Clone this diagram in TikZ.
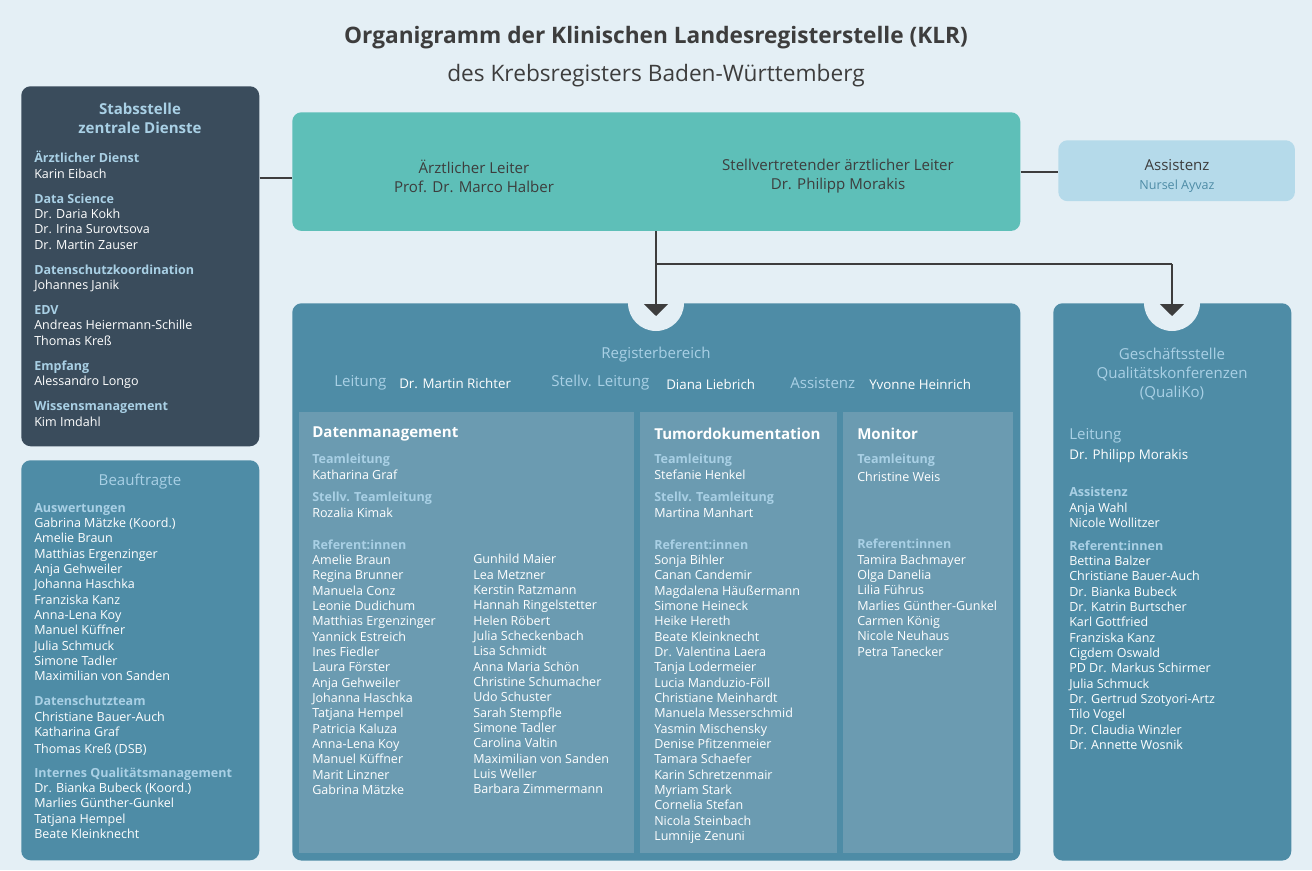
\documentclass[tikz,border=0pt]{standalone}
\usepackage{fontspec}
\setmainfont{Open Sans}
\usetikzlibrary{arrows.meta}
\definecolor{bg}{HTML}{E4EFF5}
\definecolor{darkbox}{HTML}{3A4C5C}
\definecolor{midbox}{HTML}{4E8CA6}
\definecolor{panel}{HTML}{6B9BB1}
\definecolor{teal}{HTML}{5EBFB8}
\definecolor{lightbox}{HTML}{B5DAEA}
\definecolor{lblue}{HTML}{A9D0E5}
\definecolor{ink}{HTML}{3D3D3D}
\newcommand{\hd}[1]{{\color{lblue}\bfseries #1}}
\tikzset{
  box/.style={rounded corners=7pt, inner sep=0, anchor=north west},
  pan/.style={fill=panel, inner sep=0, anchor=north west},
  txt/.style={anchor=north west, align=left, inner sep=0, text=white,
    font=\fontsize{9.4}{11.5}\selectfont},
  big/.style={inner sep=0, align=center, font=\fontsize{11.3}{14.3}\selectfont},
  conn/.style={draw=ink, line width=1.2pt}
}
\begin{document}
\begin{tikzpicture}[x=0.75pt, y=-0.75pt]
\fill[bg] (0,0) rectangle (1312,870);
\useasboundingbox (0,0) rectangle (1312,870);

% title
\node[text=ink, font=\fontsize{17}{20}\selectfont\bfseries] (titel) at (656,38) {Organigramm der Klinischen Landesregisterstelle (KLR)};
\node[text=ink, font=\fontsize{17}{20}\selectfont] (untertitel) at (656,76) {des Krebsregisters Baden-Württemberg};

% boxes
\node[box, fill=darkbox, minimum width=178.5pt, minimum height=270pt] (stab) at (21,86) {};
\node[box, fill=midbox, minimum width=178.5pt, minimum height=300pt] (beauf) at (21,460) {};
\node[box, fill=teal, minimum width=546pt, minimum height=89pt] (leitung) at (292,112) {};
\node[box, fill=lightbox, minimum width=177.5pt, minimum height=45.7pt] (assist) at (1058,140) {};
\node[box, fill=midbox, minimum width=546pt, minimum height=418pt] (register) at (292,303) {};
\node[box, fill=midbox, minimum width=178.5pt, minimum height=418pt] (gs) at (1053,303) {};
\node[pan, minimum width=251pt, minimum height=330.7pt] (daten) at (299,412) {};
\node[pan, minimum width=147.7pt, minimum height=330.7pt] (tumor) at (640,412) {};
\node[pan, minimum width=127.5pt, minimum height=330.7pt] (monitor) at (843,412) {};

% connectors
\coordinate (knick) at (656,264);
\coordinate (knickR) at (1172,264);
\coordinate (spitze) at (656,316);
\coordinate (spitzeR) at (1172,316);
\fill[bg] (656,303) circle[radius=21pt];
\fill[bg] (1172,303) circle[radius=21pt];
\draw[conn] (stab.east |- 0,178) -- (leitung.west |- 0,178);
\draw[conn] (leitung.east |- 0,172) -- (assist.west |- 0,172);
\draw[conn] (leitung.south -| knick) -- (knick) -- (knickR);
\draw[conn, -{Triangle[width=18pt, length=9pt]}] (knick) -- (spitze);
\draw[conn, -{Triangle[width=18pt, length=9pt]}] (knickR) -- (spitzeR);

% Leitung
\node[big, text=ink] (al) at (474,176) {Ärztlicher Leiter\\Prof. Dr. Marco Halber};
\node[big, text=ink] (sal) at (838,176) {Stellvertretender ärztlicher Leiter\\Dr. Philipp Morakis};
\node[big, text=ink] (asst) at (1177,176) {Assistenz\\{\fontsize{9.4}{11}\selectfont\color{midbox}Nursel Ayvaz}};

% Stabsstelle
\node[big, text=lblue, font=\fontsize{11.3}{14.3}\selectfont\bfseries] (stabtitel) at (140,118) {Stabsstelle\\zentrale Dienste};
\node[txt] (stabliste) at (34,151) {\hd{Ärztlicher Dienst}\\Karin Eibach\\[7.3pt]
\hd{Data Science}\\Dr. Daria Kokh\\Dr. Irina Surovtsova\\Dr. Martin Zauser\\[7.3pt]
\hd{Datenschutzkoordination}\\Johannes Janik\\[7.3pt]
\hd{EDV}\\Andreas Heiermann-Schille\\Thomas Kreß\\[7.3pt]
\hd{Empfang}\\Alessandro Longo\\[7.3pt]
\hd{Wissensmanagement}\\Kim Imdahl};

% Beauftragte
\node[big, text=lblue] (beauftitel) at (140,482) {Beauftragte};
\node[txt] (beaufliste) at (34,503) {\hd{Auswertungen}\\Gabrina Mätzke (Koord.)\\Amelie Braun\\Matthias Ergenzinger\\Anja Gehweiler\\Johanna Haschka\\Franziska Kanz\\Anna-Lena Koy\\Manuel Küffner\\Julia Schmuck\\Simone Tadler\\Maximilian von Sanden\\[7.3pt]
\hd{Datenschutzteam}\\Christiane Bauer-Auch\\Katharina Graf\\[1.5pt]Thomas Kreß (DSB)\\[6pt]
\hd{Internes Qualitätsmanagement}\\Dr. Bianka Bubeck (Koord.)\\Marlies Günther-Gunkel\\Tatjana Hempel\\Beate Kleinknecht};

% Registerbereich
\node[big, text=lblue] (regtitel) at (656,355) {Registerbereich};
\node[big, text=lblue, anchor=west] (regl) at (334,383) {Leitung};
\node[txt, anchor=west, font=\fontsize{10}{12}\selectfont] (reglname) at (399,384) {Dr. Martin Richter};
\node[big, text=lblue, anchor=west] (regs) at (551,383) {Stellv. Leitung};
\node[txt, anchor=west, font=\fontsize{10}{12}\selectfont] (regsname) at (666,384) {Diana Liebrich};
\node[big, text=lblue, anchor=west] (rega) at (790,383) {Assistenz};
\node[txt, anchor=west, font=\fontsize{10}{12}\selectfont] (reganame) at (869,384) {Yvonne Heinrich};

% Datenmanagement
\node[big, text=white, anchor=west, font=\fontsize{11.3}{14}\selectfont\bfseries] (datentitel) at (312,434) {Datenmanagement};
\node[txt] (datenliste) at (312,454) {\hd{Teamleitung}\\Katharina Graf\\[5.5pt]
\hd{Stellv. Teamleitung}\\Rozalia Kimak\\[12.5pt]
\hd{Referent:innen}\\Amelie Braun\\Regina Brunner\\Manuela Conz\\Leonie Dudichum\\Matthias Ergenzinger\\Yannick Estreich\\Ines Fiedler\\Laura Förster\\Anja Gehweiler\\Johanna Haschka\\Tatjana Hempel\\Patricia Kaluza\\Anna-Lena Koy\\Manuel Küffner\\Marit Linzner\\Gabrina Mätzke};
\node[txt] (datenliste2) at (473,554) {Gunhild Maier\\Lea Metzner\\Kerstin Ratzmann\\Hannah Ringelstetter\\Helen Röbert\\Julia Scheckenbach\\Lisa Schmidt\\Anna Maria Schön\\Christine Schumacher\\Udo Schuster\\Sarah Stempfle\\Simone Tadler\\Carolina Valtin\\Maximilian von Sanden\\Luis Weller\\Barbara Zimmermann};

% Tumordokumentation
\node[big, text=white, anchor=west, font=\fontsize{11.3}{14}\selectfont\bfseries] (tumortitel) at (654,434) {Tumordokumentation};
\node[txt] (tumorliste) at (654,454) {\hd{Teamleitung}\\Stefanie Henkel\\[5.5pt]
\hd{Stellv. Teamleitung}\\Martina Manhart\\[12.5pt]
\hd{Referent:innen}\\Sonja Bihler\\Canan Candemir\\Magdalena Häußermann\\Simone Heineck\\Heike Hereth\\Beate Kleinknecht\\Dr. Valentina Laera\\Tanja Lodermeier\\Lucia Manduzio-Föll\\Christiane Meinhardt\\Manuela Messerschmid\\Yasmin Mischensky\\Denise Pfitzenmeier\\Tamara Schaefer\\Karin Schretzenmair\\Myriam Stark\\Cornelia Stefan\\Nicola Steinbach\\Lumnije Zenuni};

% Monitor
\node[big, text=white, anchor=west, font=\fontsize{11.3}{14}\selectfont\bfseries] (monitortitel) at (857,434) {Monitor};
\node[txt] (monitorliste) at (857,454) {\hd{Teamleitung}\\[1.5pt]Christine Weis};
\node[txt] (monitorliste2) at (857,539) {\hd{Referent:innen}\\Tamira Bachmayer\\Olga Danelia\\Lilia Führus\\Marlies Günther-Gunkel\\Carmen König\\Nicole Neuhaus\\Petra Tanecker};

% Geschäftsstelle
\node[big, text=lblue] (gstitel) at (1172,374) {Geschäftsstelle\\Qualitätskonferenzen\\(QualiKo)};
\node[big, text=lblue, anchor=west] (gsl) at (1069,436) {Leitung};
\node[txt, anchor=west, font=\fontsize{10}{12}\selectfont] (gslname) at (1069,456) {Dr. Philipp Morakis};
\node[txt] (gsliste) at (1069,487) {\hd{Assistenz}\\Anja Wahl\\Nicole Wollitzer\\[5.5pt]
\hd{Referent:innen}\\Bettina Balzer\\Christiane Bauer-Auch\\Dr. Bianka Bubeck\\Dr. Katrin Burtscher\\Karl Gottfried\\Franziska Kanz\\Cigdem Oswald\\PD Dr. Markus Schirmer\\Julia Schmuck\\Dr. Gertrud Szotyori-Artz\\Tilo Vogel\\Dr. Claudia Winzler\\Dr. Annette Wosnik};
\end{tikzpicture}
\end{document}
